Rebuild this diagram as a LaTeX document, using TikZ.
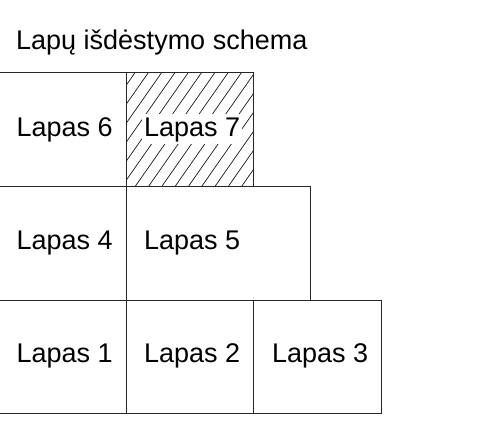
\documentclass[tikz,border=0pt]{standalone}
\usepackage{fontspec}
\setmainfont{Liberation Sans}
\begin{document}
\begin{tikzpicture}[x=1pt,y=-1pt,
  pagebox/.style={draw=black!85, line width=0.9pt, inner sep=0pt, outer sep=0pt, anchor=north west},
  lbl/.style={anchor=base west, inner xsep=2pt, inner ysep=1pt, text height=22pt, text depth=6pt, font=\fontsize{27}{32}\selectfont},
  ttl/.style={anchor=base west, inner sep=0pt, font=\fontsize{27}{32}\selectfont},
  hatchline/.style={draw=black!90, line width=0.7pt}]
\useasboundingbox (0,0) rectangle (488,443);
\node[ttl] (title) at (16,50) {Lapų išdėstymo schema};
% top row
\node[pagebox, minimum width=128pt, minimum height=113.3pt] (p6) at (-2,72.7) {};
\node[pagebox, minimum width=127.3pt, minimum height=113.3pt] (p7) at (126,72.7) {};
\begin{scope}
  \clip (p7.south west) rectangle (p7.north east);
  \foreach \k in {0,...,16} {
    \draw[hatchline] (55.7+\k*13.3,186) -- (135+\k*13.3,72.7);
  }
\end{scope}
\draw[pagebox] (p7.north west) rectangle (p7.south east);
% middle row
\node[pagebox, minimum width=128pt, minimum height=114pt] (p4) at (-2,186) {};
\node[pagebox, minimum width=184pt, minimum height=114pt] (p5) at (126,186) {};
% bottom row
\node[pagebox, minimum width=128pt, minimum height=113.3pt] (p1) at (-2,300) {};
\node[pagebox, minimum width=127.3pt, minimum height=113.3pt] (p2) at (126,300) {};
\node[pagebox, minimum width=128pt, minimum height=113.3pt] (p3) at (253.3,300) {};
% labels
\node[lbl] (l6) at (14.3,136.7) {Lapas 6};
\node[lbl, fill=white] (l7) at (142,136.7) {Lapas 7};
\node[lbl] (l4) at (14.3,250) {Lapas 4};
\node[lbl] (l5) at (142,250) {Lapas 5};
\node[lbl] (l1) at (14.3,362.7) {Lapas 1};
\node[lbl] (l2) at (142,362.7) {Lapas 2};
\node[lbl] (l3) at (270,362.7) {Lapas 3};
\end{tikzpicture}
\end{document}
